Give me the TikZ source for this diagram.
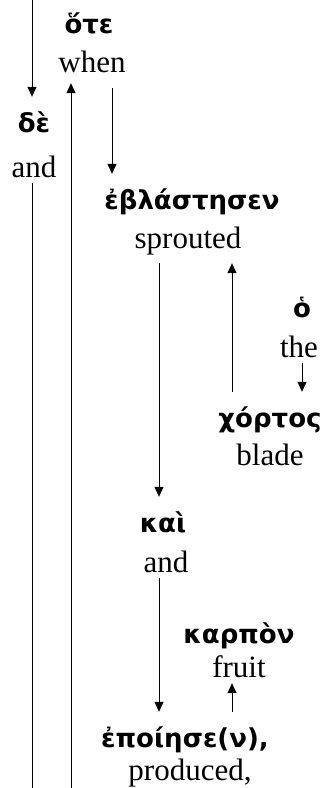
\documentclass[tikz,border=0pt]{standalone}
\usepackage{fontspec}
\setmainfont{Liberation Serif}
\newfontfamily\gkfont[BoldFont={DejaVu Sans Bold}]{DejaVu Sans}
\usetikzlibrary{arrows.meta}
\tikzset{
  gk/.style={font=\gkfont\bfseries\fontsize{26}{28}\selectfont, anchor=base, inner sep=0pt, text height=35pt, text depth=6pt},
  en/.style={font=\fontsize{31}{34}\selectfont, anchor=base, inner sep=0pt, text height=20pt, text depth=6pt},
  conn/.style={line width=1pt},
  arr/.style={line width=1pt, -{Triangle[length=10pt,width=9pt]}}
}
\begin{document}
\begin{tikzpicture}[x=1pt,y=-1pt]
\useasboundingbox (0,0) rectangle (327,788);
% words
\node[gk] (oteG) at (89,33) {ὅτε};
\node[en, text depth=11pt] (oteE) at (92,72) {when};
\node[gk] (deG) at (34,132) {δὲ};
\node[en] (deE) at (34,177) {and};
\node[gk] (ebG) at (192,209) {ἐβλάστησεν};
\node[en, text depth=15pt] (ebE) at (188,248) {sprouted};
\node[gk] (hoG) at (302,317) {ὁ};
\node[en] (hoE) at (299,357) {the};
\node[gk] (chG) at (270,427) {χόρτος};
\node[en] (chE) at (270,465) {blade};
\node[gk] (kaiG) at (163,532) {καὶ};
\node[en] (kaiE) at (166,572) {and};
\node[gk] (kaG) at (239,643) {καρπὸν};
\node[en] (kaE) at (239,677) {fruit};
\node[gk] (epG) at (185,747) {ἐποίησε(ν),};
\node[en] (epE) at (190,780) {produced,};
% connector columns
\coordinate (topA) at (32,0);
\coordinate (botA) at (32,788);
\coordinate (botB) at (71,788);
\coordinate (cX) at (112,0);
\coordinate (dX) at (159,0);
\coordinate (eX) at (232,0);
\coordinate (fX) at (302,0);
% connectors
\draw[arr] (topA) -- (topA |- deG.north);
\draw[conn] (topA |- deE.south) -- (botA);
\draw[arr] (botB) -- (botB |- oteE.south);
\draw[arr, shorten <=5pt] (cX |- oteE.south) -- (cX |- ebG.north);
\draw[arr] (dX |- ebE.south) -- (dX |- kaiG.north);
\draw[arr] (eX |- chG.north) -- (eX |- ebE.south);
\draw[arr] (fX |- hoE.south) -- (fX |- chG.north);
\draw[arr] (dX |- kaiE.south) -- (dX |- epG.north);
\draw[arr] (eX |- epG.north) -- (eX |- kaE.south);
\end{tikzpicture}
\end{document}
